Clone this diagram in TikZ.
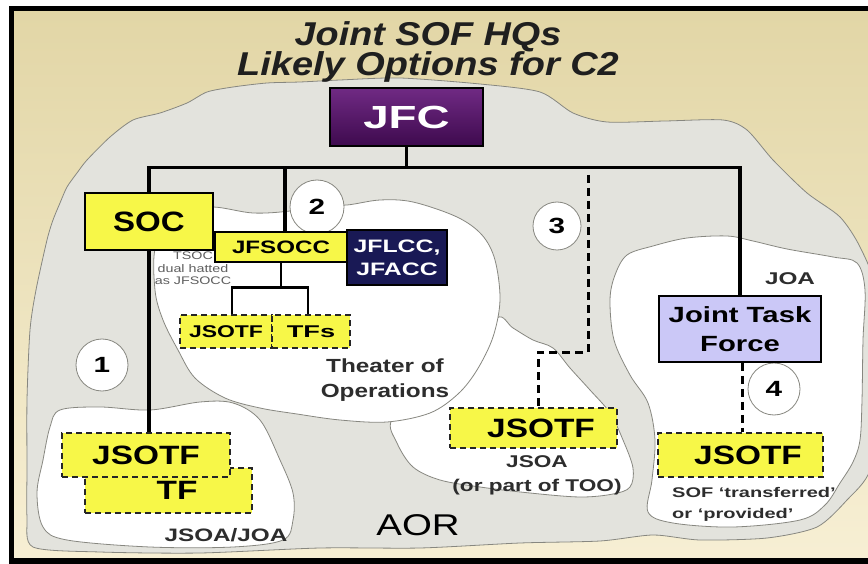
\documentclass[tikz,border=0pt]{standalone}
\usepackage{fontspec}
\setmainfont{Liberation Sans}
\usepackage{graphicx}
\definecolor{beigeT}{RGB}{226,214,166}
\definecolor{beigeB}{RGB}{247,239,212}
\definecolor{blobgray}{RGB}{227,227,221}
\definecolor{blobline}{RGB}{135,135,128}
\definecolor{boxyellow}{RGB}{247,247,72}
\definecolor{jfcTop}{RGB}{112,42,132}
\definecolor{jfcBot}{RGB}{62,10,78}
\definecolor{navyblue}{RGB}{25,25,85}
\definecolor{lavender}{RGB}{203,200,247}
\definecolor{txtgray}{RGB}{45,45,45}
\definecolor{smallgray}{RGB}{95,95,95}
\newcommand{\sx}[2]{\scalebox{#1}[1]{#2}}
\newcommand{\fsz}[2]{\fontsize{#1}{#2}\selectfont}
\begin{document}
\begin{tikzpicture}[x=1pt,y=-1pt,
  blob/.style={draw=blobline, line width=0.8pt},
  sbox/.style={draw=black, line width=1.5pt, inner sep=0pt, fill=boxyellow},
  dbox/.style={draw=black!85, fill=boxyellow, line width=1.8pt, dash pattern=on 6pt off 4pt, inner sep=0pt},
  tree/.style={line width=3.5pt},
  subtree/.style={line width=2.5pt},
  dline/.style={line width=3pt, dash pattern=on 8pt off 5pt},
  num/.style={circle, draw=blobline, line width=0.8pt, fill=white, inner sep=0pt, font=\fsz{22}{22}\bfseries},
  lbl/.style={inner sep=0pt, text=txtgray, font=\bfseries},
  ttl/.style={inner sep=0pt, align=center, text=black!88, font=\fsz{33}{30.5}\bfseries\itshape}
]
\useasboundingbox (0,0) rectangle (868,564);
\clip (0,0) rectangle (868,564);
\fill[white] (0,0) rectangle (868,564);
\shade[top color=beigeT, bottom color=beigeB] (12,9) rectangle (868,560);
% frame
\fill[black] (9,6) rectangle (868,11);
\fill[black] (9,6) rectangle (14,564);
\fill[black] (9,558) rectangle (868,564);

% AOR gray blob
\filldraw[blob, fill=blobgray] plot[smooth cycle, tension=0.45] coordinates {
 (47,240) (53,220) (60,203) (67,187) (77,173) (87,160) (110,137) (133,120) (160,113) (187,103) (207,92) (233,87)
 (267,83) (300,82) (340,80) (400,78) (480,84) (540,92) (573,113) (607,122) (665,121)
 (723,120) (747,130) (773,160) (807,193) (840,217) (860,247) (875,290) (878,400)
 (870,470) (847,500) (817,527) (767,538) (700,540) (653,535) (600,541) (520,543)
 (420,548) (320,548) (200,553) (100,552) (33,547) (27,517) (27,470) (27,400) (30,330) (36,290)};
% JSOA/JOA blob
\filldraw[blob, fill=white] plot[smooth cycle, tension=0.55] coordinates {
 (60,410) (100,407) (150,410) (200,402) (233,403) (260,420) (280,460) (293,493)
 (293,520) (283,540) (233,547) (150,547) (67,540) (43,527) (37,493) (43,460) (50,427)};
% JSOA blob
\filldraw[blob, fill=white] plot[smooth cycle, tension=0.55] coordinates {
 (497,318) (513,328) (533,340) (553,348) (570,368) (590,390) (610,413) (623,440)
 (633,468) (630,487) (613,494) (580,497) (530,493) (480,487) (440,480) (413,467)
 (397,443) (392,420) (430,395) (470,360)};
% Theater blob
\filldraw[blob, fill=white] plot[smooth cycle, tension=0.55] coordinates {
 (155,290) (156,245) (180,212) (213,207) (253,213) (290,211) (320,205) (347,205)
 (380,200) (413,202) (457,217) (482,235) (495,260) (500,300) (493,337) (477,370)
 (458,394) (430,413) (387,422) (340,420) (297,414) (260,408) (225,398) (195,378)
 (178,350) (163,320)};
% JOA blob
\filldraw[blob, fill=white] plot[smooth cycle, tension=0.55] coordinates {
 (627,255) (653,246) (687,238) (727,236) (753,241) (787,249) (833,257) (857,263)
 (865,290) (863,340) (862,400) (860,440) (853,462) (840,483) (825,505) (800,520)
 (733,527) (673,523) (648,512) (652,480) (655,440) (648,403) (630,375) (614,340)
 (610,300) (615,275)};

% title
\node[ttl] (title) at (428,52) {\sx{1.145}{Joint SOF HQs}\\\sx{1.15}{Likely Options for C2}};

% circles
\node[num, minimum size=52pt] (c1) at (102,365) {\sx{1.35}{1}};
\node[num, minimum size=54pt] (c2) at (317,207) {\sx{1.35}{2}};
\node[num, minimum size=48pt] (c3) at (557,226) {\sx{1.35}{3}};
\node[num, minimum size=52pt] (c4) at (774,389) {\sx{1.35}{4}};

% boxes
\node[sbox, minimum width=153pt, minimum height=58pt, top color=jfcTop, bottom color=jfcBot, text=white, font=\fsz{32}{32}\bfseries] (jfc) at (406.5,117) {\sx{1.43}{JFC}};
\node[sbox, minimum width=128pt, minimum height=57pt, font=\fsz{28}{28}\bfseries] (soc) at (149,221.5) {\sx{1.18}{SOC}};
\node[sbox, minimum width=132pt, minimum height=30pt, font=\fsz{18}{18}\bfseries] (jfsocc) at (281,247) {\sx{1.34}{JFSOCC}};
\node[sbox, fill=navyblue, minimum width=100pt, minimum height=55pt, text=white, align=center, font=\fsz{18}{23}\bfseries] (jflcc) at (397,257.5) {\sx{1.38}{JFLCC,}\\\sx{1.38}{JFACC}};
\node[dbox, minimum width=92pt, minimum height=33pt, font=\fsz{17}{17}\bfseries] (jsotf2) at (226,331.5) {\sx{1.35}{JSOTF}};
\node[dbox, minimum width=78pt, minimum height=33pt, font=\fsz{17}{17}\bfseries] (tfs) at (311,331.5) {\sx{1.6}{TFs}};
\node[sbox, fill=lavender, minimum width=162pt, minimum height=66pt, align=center, font=\fsz{22}{29}\bfseries] (jtf) at (740,329) {\sx{1.33}{Joint Task}\\\sx{1.33}{Force}};
\node[dbox, minimum width=167pt, minimum height=45pt, font=\fsz{26.5}{26.5}\bfseries] (tf) at (168.5,490.5) {\hspace*{17pt}\sx{1.26}{TF}};
\node[dbox, minimum width=168pt, minimum height=44pt, font=\fsz{26.5}{26.5}\bfseries] (jsotf1) at (146,455) {\sx{1.26}{JSOTF}};
\node[dbox, minimum width=167pt, minimum height=40pt, font=\fsz{26.5}{26.5}\bfseries] (jsotf3) at (533.5,428) {\hspace*{15pt}\sx{1.26}{JSOTF}};
\node[dbox, minimum width=165pt, minimum height=44pt, font=\fsz{26.5}{26.5}\bfseries] (jsotf4) at (740.5,455) {\hspace*{15pt}\sx{1.26}{JSOTF}};

% connectors
\draw[tree] (jfc.south) -- ++(0,21) coordinate (bar);
\draw[tree] (soc.north) -- (soc.north |- bar) -- (jtf.north |- bar) -- (jtf.north);
\draw[tree] ([xshift=4pt]jfsocc.north) -- ([xshift=4pt]jfsocc.north |- bar);
\draw[tree] (soc.south) -- (soc.south |- jsotf1.north);
\draw[subtree] (jfsocc.south) -- ++(0,25) coordinate (sb);
\draw[subtree] ([xshift=6pt]jsotf2.north) |- (sb) -| ([xshift=-3pt]tfs.north);
\coordinate (d3top) at (588,175);
\draw[dline] (d3top) -- ++(0,177) -| ([xshift=4.5pt]jsotf3.north);
\draw[dline] ([xshift=2pt]jtf.south) -- ([xshift=2pt]jtf.south |- jsotf4.north);

% labels
\node[inner sep=0pt, align=center, text=smallgray, font=\fsz{11}{12.5}] (tsoc) at (193,268.5) {\sx{1.3}{TSOC}\\\sx{1.3}{dual hatted}\\\sx{1.3}{as JFSOCC}};
\node[lbl, align=center, font=\fsz{19}{25}\bfseries] (too) at (385,380) {\sx{1.28}{Theater of}\\\sx{1.28}{Operations}};
\node[lbl, anchor=base, font=\fsz{30}{30}, text=black] (aor) at (418,535) {\sx{1.28}{AOR}};
\node[lbl, anchor=base, font=\fsz{18}{18}\bfseries] (jsoajoa) at (226,541) {\sx{1.35}{JSOA/JOA}};
\node[lbl, align=center, font=\fsz{17}{24}\bfseries] (jsoa) at (537,475.7) {\sx{1.33}{JSOA}\\\sx{1.33}{(or part of TOO)}};
\node[lbl, anchor=west, align=left, font=\fsz{14}{21}\bfseries] (sof) at (672,504) {\sx{1.43}{SOF `transferred'}\\\sx{1.43}{or `provided'}};
\node[lbl, anchor=base, font=\fsz{17}{17}\bfseries] (joa) at (790,284) {\sx{1.43}{JOA}};
\end{tikzpicture}
\end{document}
